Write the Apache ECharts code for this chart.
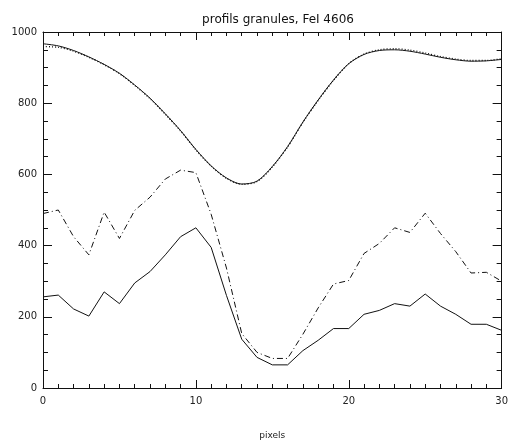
<!DOCTYPE html>
<html>
<head>
<meta charset="utf-8">
<script src="https://cdn.jsdelivr.net/npm/echarts@6/dist/echarts.min.js"></script>
<style>
  html, body { margin: 0; padding: 0; background: #fff; }
  #chart { width: 511px; height: 445px; }
</style>
</head>
<body>
<div id="chart"></div>
<script>
// x positions (pixels)
const xPixels = [0,1,2,3,4,5,6,7,8,9,10,11,12,13,14,15,16,17,18,19,20,21,22,23,24,25,26,27,28,29,30];
// top profile, solid
const profileTopSolid = [967,961,948,930,909,884,851,814,770,723,670,624,590,573,581,622,678,747,809,865,911,937,948,950,946,938,929,922,918,919,923];
// top profile, dotted
const profileTopDotted = [959,957,946,929,908,883,850,813,769,722,669,623,589,572,580,621,677,746,808,864,911,938,950,953,949,941,931,924,920,920,925];
// middle profile, dash-dot
const profileDashDot = [490,500,425,374,494,420,499,536,587,612,605,488,337,153,100,83,83,151,225,292,302,378,406,450,437,491,434,383,323,325,300];
// bottom profile, solid
const profileBottom = [256,261,222,202,270,237,295,327,374,425,450,395,260,137,86,65,65,105,134,167,167,207,218,237,230,264,230,207,179,179,162];
// axis ticks
const xTicks = [0,10,20,30];
const yTicks = [0,200,400,600,800,1000];

const pairs = (ys) => xPixels.map((x, i) => [x, ys[i]]);

const axisColor = '#111';
const labelFont = { fontFamily: 'DejaVu Sans', fontSize: 10, color: '#222' };

const chart = echarts.init(document.getElementById('chart'), null, { renderer: 'canvas' });
chart.setOption({
  animation: false,
  backgroundColor: '#fff',
  title: {
    text: 'profils granules, FeI 4606',
    left: 273, textAlign: 'center', top: 9,
    textStyle: { fontFamily: 'DejaVu Sans', fontSize: 12, fontWeight: 'normal', color: '#111' }
  },
  grid: { left: 43, right: 8, top: 32, bottom: 54, containLabel: false },
  xAxis: [
    {
      type: 'value', position: 'bottom',
      min: xTicks[0], max: xTicks[xTicks.length - 1], interval: xTicks[1] - xTicks[0],
      name: 'pixels', nameLocation: 'middle', nameGap: 43,
      nameTextStyle: { fontFamily: 'DejaVu Sans', fontSize: 9, color: '#222' },
      axisLine: { show: true, onZero: false, lineStyle: { color: axisColor, width: 1 } },
      axisTick: { show: true, inside: true, length: 8, lineStyle: { color: axisColor } },
      minorTick: { show: true, splitNumber: 10, length: 4, lineStyle: { color: axisColor } },
      axisLabel: Object.assign({ margin: 8, formatter: (v) => String(v) }, labelFont),
      splitLine: { show: false }
    },
    {
      type: 'value', position: 'top',
      min: xTicks[0], max: xTicks[xTicks.length - 1], interval: xTicks[1] - xTicks[0],
      axisLine: { show: true, onZero: false, lineStyle: { color: axisColor, width: 1 } },
      axisTick: { show: true, inside: true, length: 8, lineStyle: { color: axisColor } },
      minorTick: { show: true, splitNumber: 10, length: 4, lineStyle: { color: axisColor } },
      axisLabel: { show: false },
      splitLine: { show: false }
    }
  ],
  yAxis: [
    {
      type: 'value', position: 'left',
      min: yTicks[0], max: yTicks[yTicks.length - 1], interval: yTicks[1] - yTicks[0],
      axisLine: { show: true, onZero: false, lineStyle: { color: axisColor, width: 1 } },
      axisTick: { show: true, inside: true, length: 9, lineStyle: { color: axisColor } },
      minorTick: { show: true, splitNumber: 4, length: 5, lineStyle: { color: axisColor } },
      axisLabel: Object.assign({ margin: 6, formatter: (v) => String(v) }, labelFont),
      splitLine: { show: false }
    },
    {
      type: 'value', position: 'right',
      min: yTicks[0], max: yTicks[yTicks.length - 1], interval: yTicks[1] - yTicks[0],
      axisLine: { show: true, onZero: false, lineStyle: { color: axisColor, width: 1 } },
      axisTick: { show: true, inside: true, length: 9, lineStyle: { color: axisColor } },
      minorTick: { show: true, splitNumber: 4, length: 5, lineStyle: { color: axisColor } },
      axisLabel: { show: false },
      splitLine: { show: false }
    }
  ],
  series: [
    {
      name: 'top dotted', type: 'line', data: pairs(profileTopDotted),
      showSymbol: false, smooth: 0.3,
      lineStyle: { color: '#111', width: 1.3, type: [1, 2] }
    },
    {
      name: 'top solid', type: 'line', data: pairs(profileTopSolid),
      showSymbol: false, smooth: 0.3,
      lineStyle: { color: '#111', width: 1 }
    },
    {
      name: 'dash-dot', type: 'line', data: pairs(profileDashDot),
      showSymbol: false,
      lineStyle: { color: '#111', width: 1, type: [6, 3, 1, 3] }
    },
    {
      name: 'bottom solid', type: 'line', data: pairs(profileBottom),
      showSymbol: false,
      lineStyle: { color: '#111', width: 1 }
    }
  ]
});
</script>
</body>
</html>
